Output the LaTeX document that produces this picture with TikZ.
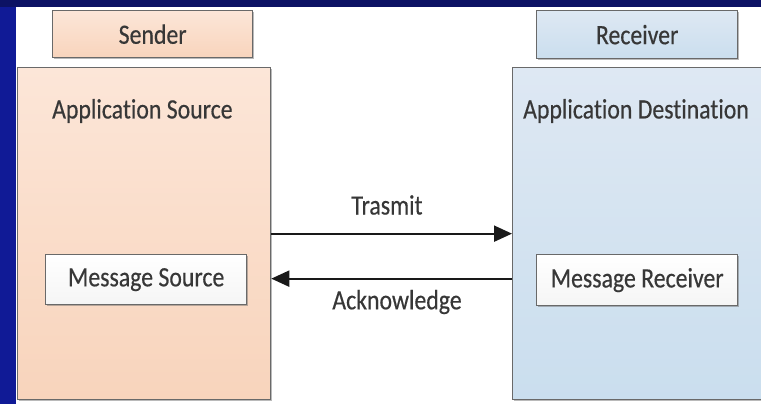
\documentclass[tikz,border=0pt]{standalone}
\usepackage{fontspec}
\setmainfont{Carlito}[FakeStretch=0.85, Ligatures={NoCommon}, FakeBold=0.4]
\usetikzlibrary{arrows.meta,shadows}

\definecolor{navyL}{RGB}{16,26,150}
\definecolor{navyT}{RGB}{12,18,100}
\definecolor{txt}{RGB}{55,55,55}
\definecolor{edge}{RGB}{105,105,105}
\definecolor{peachT}{RGB}{252,230,216}
\definecolor{peachB}{RGB}{248,212,188}
\definecolor{blueT}{RGB}{222,232,243}
\definecolor{blueB}{RGB}{202,222,238}

\tikzset{
  lbl/.style={font=\fontsize{28}{30}\selectfont, text=txt, inner sep=0pt},
  panel/.style={draw=edge, line width=1.3pt, anchor=north west, inner sep=0pt,
    drop shadow={shadow xshift=1.5pt, shadow yshift=-1.5pt, opacity=0.45, fill=black!60}},
  peach/.style={panel, top color=peachT, bottom color=peachB},
  bluish/.style={panel, top color=blueT, bottom color=blueB},
  msgbox/.style={panel, top color=white, bottom color=black!4, lbl},
  flow/.style={line width=2pt, draw=black!90, -{Triangle[length=18pt,width=16pt]}}
}

\begin{document}
\begin{tikzpicture}[x=1pt,y=-1pt]
  \clip (0,0) rectangle (761,404);
  % page frame
  \fill[white] (0,0) rectangle (761,404);
  \fill[navyL] (0,0) rectangle (16,404);
  \fill[navyT] (0,0) rectangle (761,7);

  % sender side
  \node[peach, minimum width=200pt, minimum height=47pt, lbl] (sender) at (52,10) {Sender};
  \node[peach, minimum width=253pt, minimum height=332pt] (src) at (17,67) {};
  \node[lbl, anchor=west] (srctitle) at (52,111) {Application Source};
  \node[msgbox, minimum width=201pt, minimum height=50pt] (msgsrc) at (45,254) {Message Source};

  % receiver side
  \node[bluish, minimum width=201pt, minimum height=48pt, lbl] (receiver) at (536,10) {Receiver};
  \node[bluish, minimum width=263pt, minimum height=332pt] (dst) at (512,67) {};
  \node[lbl, anchor=west] (dsttitle) at (523,111) {Application Destination};
  \node[msgbox, minimum width=201pt, minimum height=51pt] (msgrcv) at (536,254) {Message Receiver};

  % message flow between the two applications
  \draw[flow] (src.east) -- (dst.west);
  \draw[flow] ([yshift=-45pt]dst.west) -- ([yshift=-45pt]src.east);
  \node[lbl] (tx) at (387,205) {Trasmit};
  \node[lbl] (ack) at (397,302) {Acknowledge};
\end{tikzpicture}
\end{document}
